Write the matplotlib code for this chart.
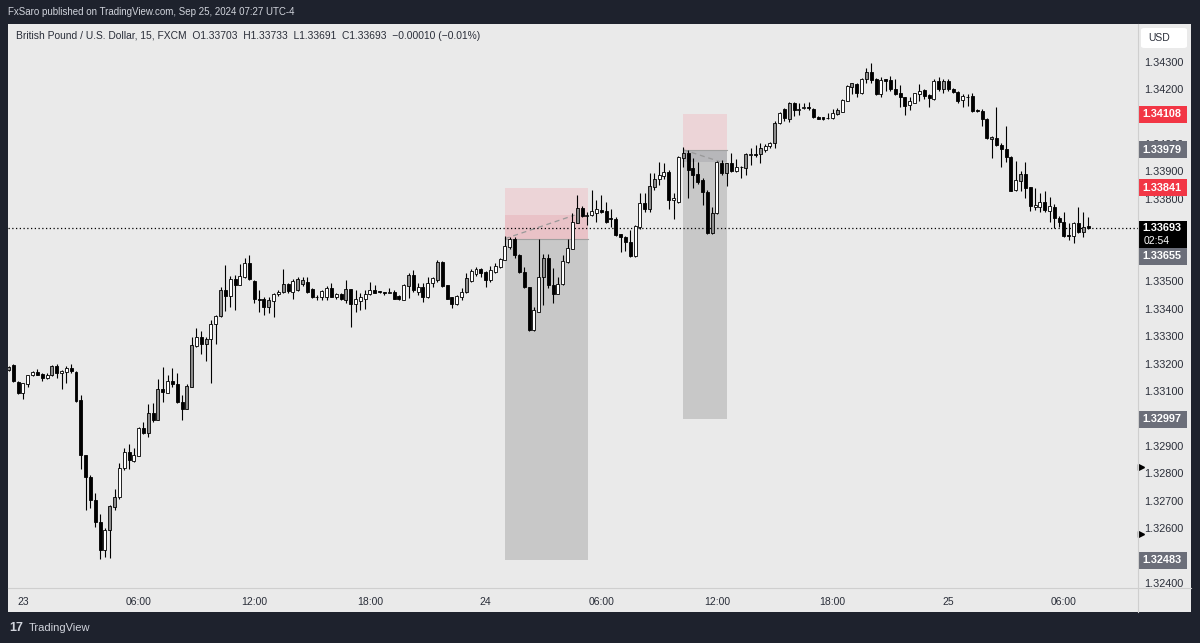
import numpy as np
import pandas as pd
import matplotlib
matplotlib.use("Agg")
import matplotlib.pyplot as plt
import matplotlib.transforms as mtransforms
from matplotlib.patches import Rectangle, FancyBboxPatch
from matplotlib.lines import Line2D

plt.rcParams["font.family"] = ["Liberation Sans", "DejaVu Sans"]

# GBPUSD 15m, FXCM
times = pd.date_range("2024-09-22 23:15", periods=225, freq="15min")
opens = [
    1.33176, 1.33194, 1.33134, 1.33091, 1.33125, 1.33158, 1.33168, 1.33162, 1.33146, 1.33157,
    1.33192, 1.33164, 1.33170, 1.33185, 1.33170, 1.33067, 1.32866, 1.32787, 1.32703, 1.32623,
    1.32522, 1.32595, 1.32678, 1.32712, 1.32818, 1.32876, 1.32846, 1.32863, 1.32966, 1.32948,
    1.33018, 1.32996, 1.33109, 1.33094, 1.33137, 1.33125, 1.33061, 1.33036, 1.33115, 1.33264,
    1.33295, 1.33273, 1.33288, 1.33344, 1.33373, 1.33468, 1.33446, 1.33507, 1.33488, 1.33516,
    1.33565, 1.33502, 1.33437, 1.33434, 1.33407, 1.33429, 1.33452, 1.33462, 1.33490, 1.33462,
    1.33468, 1.33490, 1.33498, 1.33470, 1.33444, 1.33441, 1.33444, 1.33474, 1.33441, 1.33453,
    1.33432, 1.33470, 1.33417, 1.33429, 1.33436, 1.33452, 1.33468, 1.33462, 1.33461, 1.33458,
    1.33462, 1.33446, 1.33432, 1.33483, 1.33523, 1.33462, 1.33480, 1.33441, 1.33492, 1.33504,
    1.33571, 1.33486, 1.33441, 1.33417, 1.33444, 1.33461, 1.33502, 1.33526, 1.33543, 1.33535,
    1.33504, 1.33534, 1.33551, 1.33577, 1.33626, 1.33655, 1.33596, 1.33535, 1.33478, 1.33322,
    1.33389, 1.33517, 1.33583, 1.33486, 1.33453, 1.33490, 1.33571, 1.33619, 1.33713, 1.33766,
    1.33738, 1.33741, 1.33750, 1.33759, 1.33757, 1.33729, 1.33725, 1.33672, 1.33662, 1.33644,
    1.33592, 1.33698, 1.33784, 1.33765, 1.33844, 1.33871, 1.33883, 1.33899, 1.33796, 1.33790,
    1.33948, 1.33968, 1.33911, 1.33890, 1.33869, 1.33826, 1.33677, 1.33747, 1.33932, 1.33895,
    1.33929, 1.33903, 1.33915, 1.33911, 1.33960, 1.33962, 1.33963, 1.33978, 1.33993, 1.34002,
    1.34075, 1.34126, 1.34090, 1.34148, 1.34124, 1.34133, 1.34136, 1.34126, 1.34099, 1.34098,
    1.34094, 1.34094, 1.34110, 1.34118, 1.34158, 1.34209, 1.34219, 1.34185, 1.34236, 1.34264,
    1.34236, 1.34183, 1.34236, 1.34234, 1.34200, 1.34187, 1.34170, 1.34143, 1.34151, 1.34183,
    1.34197, 1.34179, 1.34163, 1.34231, 1.34200, 1.34228, 1.34200, 1.34191, 1.34161, 1.34173,
    1.34175, 1.34122, 1.34122, 1.34090, 1.34017, 1.34021, 1.33997, 1.33982, 1.33952, 1.33833,
    1.33867, 1.33891, 1.33842, 1.33770, 1.33770, 1.33790, 1.33757, 1.33772, 1.33729, 1.33714,
    1.33669, 1.33663, 1.33711, 1.33681, 1.33703,
]
highs = [
    1.33191, 1.33198, 1.33137, 1.33130, 1.33160, 1.33174, 1.33179, 1.33164, 1.33164, 1.33194,
    1.33198, 1.33176, 1.33191, 1.33200, 1.33172, 1.33085, 1.32866, 1.32793, 1.32727, 1.32651,
    1.32599, 1.32684, 1.32741, 1.32836, 1.32893, 1.32906, 1.32891, 1.32970, 1.32988, 1.33051,
    1.33058, 1.33142, 1.33188, 1.33158, 1.33182, 1.33164, 1.33085, 1.33125, 1.33295, 1.33328,
    1.33320, 1.33295, 1.33358, 1.33377, 1.33480, 1.33559, 1.33519, 1.33522, 1.33563, 1.33583,
    1.33595, 1.33504, 1.33468, 1.33441, 1.33441, 1.33456, 1.33468, 1.33543, 1.33494, 1.33507,
    1.33514, 1.33514, 1.33517, 1.33474, 1.33450, 1.33468, 1.33483, 1.33492, 1.33456, 1.33456,
    1.33504, 1.33470, 1.33468, 1.33456, 1.33468, 1.33498, 1.33486, 1.33466, 1.33462, 1.33474,
    1.33468, 1.33450, 1.33490, 1.33529, 1.33541, 1.33492, 1.33495, 1.33514, 1.33514, 1.33577,
    1.33575, 1.33486, 1.33444, 1.33450, 1.33474, 1.33529, 1.33543, 1.33551, 1.33547, 1.33539,
    1.33556, 1.33568, 1.33583, 1.33665, 1.33660, 1.33660, 1.33599, 1.33551, 1.33480, 1.33407,
    1.33653, 1.33599, 1.33599, 1.33547, 1.33514, 1.33596, 1.33653, 1.33747, 1.33814, 1.33774,
    1.33754, 1.33833, 1.33796, 1.33814, 1.33790, 1.33765, 1.33735, 1.33672, 1.33664, 1.33686,
    1.33705, 1.33820, 1.33820, 1.33893, 1.33893, 1.33935, 1.33932, 1.33905, 1.33820, 1.33956,
    1.33988, 1.33978, 1.33948, 1.33935, 1.33875, 1.33832, 1.33769, 1.33939, 1.33941, 1.33932,
    1.33966, 1.33944, 1.33920, 1.33966, 1.33984, 1.33996, 1.34002, 1.34000, 1.34008, 1.34085,
    1.34118, 1.34130, 1.34154, 1.34154, 1.34148, 1.34150, 1.34154, 1.34130, 1.34102, 1.34100,
    1.34112, 1.34127, 1.34130, 1.34163, 1.34215, 1.34224, 1.34224, 1.34240, 1.34276, 1.34297,
    1.34240, 1.34246, 1.34236, 1.34248, 1.34236, 1.34215, 1.34173, 1.34173, 1.34187, 1.34219,
    1.34200, 1.34183, 1.34236, 1.34243, 1.34236, 1.34236, 1.34203, 1.34195, 1.34183, 1.34183,
    1.34185, 1.34127, 1.34127, 1.34094, 1.34030, 1.34136, 1.34005, 1.34066, 1.33957, 1.33937,
    1.33900, 1.33936, 1.33845, 1.33839, 1.33823, 1.33827, 1.33808, 1.33782, 1.33736, 1.33754,
    1.33711, 1.33714, 1.33772, 1.33754, 1.33733,
]
lows = [
    1.33174, 1.33134, 1.33089, 1.33069, 1.33115, 1.33155, 1.33157, 1.33137, 1.33142, 1.33154,
    1.33149, 1.33109, 1.33130, 1.33166, 1.33061, 1.32814, 1.32666, 1.32672, 1.32605, 1.32486,
    1.32496, 1.32490, 1.32666, 1.32708, 1.32812, 1.32814, 1.32842, 1.32863, 1.32942, 1.32933,
    1.32988, 1.32994, 1.33061, 1.33091, 1.33115, 1.33057, 1.32996, 1.33036, 1.33115, 1.33261,
    1.33234, 1.33210, 1.33128, 1.33271, 1.33371, 1.33392, 1.33407, 1.33395, 1.33486, 1.33510,
    1.33504, 1.33419, 1.33389, 1.33377, 1.33383, 1.33368, 1.33446, 1.33458, 1.33456, 1.33434,
    1.33465, 1.33483, 1.33458, 1.33438, 1.33432, 1.33432, 1.33432, 1.33441, 1.33436, 1.33432,
    1.33422, 1.33334, 1.33389, 1.33395, 1.33398, 1.33450, 1.33456, 1.33456, 1.33450, 1.33456,
    1.33434, 1.33432, 1.33432, 1.33438, 1.33462, 1.33450, 1.33426, 1.33438, 1.33480, 1.33498,
    1.33478, 1.33434, 1.33401, 1.33413, 1.33432, 1.33458, 1.33498, 1.33519, 1.33517, 1.33480,
    1.33498, 1.33531, 1.33547, 1.33577, 1.33616, 1.33583, 1.33531, 1.33474, 1.33320, 1.33320,
    1.33389, 1.33413, 1.33474, 1.33419, 1.33453, 1.33486, 1.33565, 1.33616, 1.33713, 1.33735,
    1.33705, 1.33738, 1.33717, 1.33747, 1.33711, 1.33698, 1.33664, 1.33607, 1.33611, 1.33589,
    1.33589, 1.33692, 1.33753, 1.33753, 1.33832, 1.33850, 1.33871, 1.33765, 1.33725, 1.33784,
    1.33917, 1.33802, 1.33838, 1.33856, 1.33777, 1.33672, 1.33672, 1.33745, 1.33887, 1.33847,
    1.33899, 1.33899, 1.33875, 1.33887, 1.33923, 1.33954, 1.33929, 1.33972, 1.33984, 1.33984,
    1.34073, 1.34085, 1.34081, 1.34102, 1.34106, 1.34126, 1.34124, 1.34093, 1.34090, 1.34088,
    1.34090, 1.34090, 1.34106, 1.34115, 1.34155, 1.34183, 1.34173, 1.34183, 1.34224, 1.34224,
    1.34179, 1.34173, 1.34195, 1.34195, 1.34179, 1.34134, 1.34106, 1.34124, 1.34149, 1.34155,
    1.34163, 1.34136, 1.34161, 1.34195, 1.34185, 1.34195, 1.34187, 1.34151, 1.34134, 1.34139,
    1.34118, 1.34117, 1.34064, 1.34017, 1.33948, 1.33991, 1.33918, 1.33936, 1.33827, 1.33830,
    1.33830, 1.33802, 1.33757, 1.33760, 1.33754, 1.33754, 1.33714, 1.33693, 1.33699, 1.33660,
    1.33650, 1.33638, 1.33677, 1.33660, 1.33691,
]
closes = [
    1.33188, 1.33136, 1.33091, 1.33128, 1.33158, 1.33169, 1.33160, 1.33146, 1.33160, 1.33192,
    1.33164, 1.33172, 1.33185, 1.33172, 1.33064, 1.32866, 1.32787, 1.32703, 1.32623, 1.32520,
    1.32595, 1.32682, 1.32712, 1.32818, 1.32876, 1.32848, 1.32866, 1.32966, 1.32948, 1.33018,
    1.32994, 1.33109, 1.33096, 1.33137, 1.33124, 1.33061, 1.33036, 1.33119, 1.33267, 1.33295,
    1.33273, 1.33288, 1.33344, 1.33373, 1.33468, 1.33446, 1.33507, 1.33486, 1.33519, 1.33565,
    1.33507, 1.33435, 1.33431, 1.33407, 1.33431, 1.33452, 1.33460, 1.33490, 1.33465, 1.33502,
    1.33507, 1.33504, 1.33462, 1.33441, 1.33441, 1.33466, 1.33474, 1.33444, 1.33452, 1.33434,
    1.33470, 1.33417, 1.33434, 1.33441, 1.33453, 1.33468, 1.33458, 1.33461, 1.33458, 1.33462,
    1.33436, 1.33434, 1.33486, 1.33523, 1.33468, 1.33480, 1.33441, 1.33492, 1.33511, 1.33571,
    1.33483, 1.33436, 1.33417, 1.33446, 1.33462, 1.33511, 1.33539, 1.33543, 1.33529, 1.33504,
    1.33541, 1.33556, 1.33580, 1.33628, 1.33655, 1.33596, 1.33535, 1.33478, 1.33322, 1.33395,
    1.33514, 1.33583, 1.33486, 1.33453, 1.33490, 1.33575, 1.33620, 1.33717, 1.33766, 1.33738,
    1.33741, 1.33757, 1.33762, 1.33753, 1.33717, 1.33725, 1.33668, 1.33662, 1.33644, 1.33592,
    1.33701, 1.33784, 1.33765, 1.33847, 1.33871, 1.33887, 1.33899, 1.33796, 1.33802, 1.33951,
    1.33968, 1.33905, 1.33887, 1.33863, 1.33826, 1.33677, 1.33750, 1.33935, 1.33895, 1.33929,
    1.33903, 1.33915, 1.33917, 1.33963, 1.33962, 1.33960, 1.33984, 1.33993, 1.34002, 1.34078,
    1.34112, 1.34093, 1.34148, 1.34124, 1.34126, 1.34136, 1.34130, 1.34097, 1.34092, 1.34090,
    1.34096, 1.34112, 1.34124, 1.34161, 1.34212, 1.34222, 1.34185, 1.34236, 1.34264, 1.34234,
    1.34183, 1.34234, 1.34231, 1.34200, 1.34183, 1.34170, 1.34139, 1.34155, 1.34185, 1.34195,
    1.34175, 1.34167, 1.34231, 1.34200, 1.34228, 1.34200, 1.34191, 1.34158, 1.34175, 1.34170,
    1.34122, 1.34121, 1.34090, 1.34021, 1.34027, 1.33997, 1.33982, 1.33952, 1.33830, 1.33869,
    1.33891, 1.33839, 1.33774, 1.33778, 1.33790, 1.33760, 1.33774, 1.33729, 1.33714, 1.33663,
    1.33663, 1.33711, 1.33681, 1.33699, 1.33693,
]
# bars (counted from 23 Sep 00:00) drawn with the grey fill
gray_bars = [-3, 6, 18, 19, 26, 28, 34, 35, 38, 41, 51, 54, 57, 58, 67, 80, 86, 92, 108, 115,
             130, 131, 137, 143, 146, 150, 153, 156, 159, 169, 172, 175, 191, 201, 207, 220]

# short position tools: (start, end, stop, entry, target, exit time, exit price)
pos1 = ("2024-09-24 01:00", "2024-09-24 05:18", 1.33841, 1.33655, 1.32483, "2024-09-24 04:37", 1.33741)
pos2 = ("2024-09-24 10:15", "2024-09-24 12:30", 1.34108, 1.33979, 1.32997, "2024-09-24 12:09", 1.33936)
marker_prices = [1.32823, 1.32579]
last_price, countdown = 1.33693, "02:54"

W, H = 1200, 643
fig = plt.figure(figsize=(W / 100, H / 100), dpi=100, facecolor="#1e222d")

def fx(px):
    return px / W

def fy(py):
    return 1 - py / H

# chart panel
fig.add_artist(Rectangle((fx(8), fy(611.7)), fx(1182.7), 588.2 / H, transform=fig.transFigure,
                         fc="#eaeaea", ec="none", zorder=-5))
ax = fig.add_axes([fx(8), fy(588.3), fx(1129.7), (588.3 - 23.5) / H])
ax.set_facecolor("none")
fig.add_artist(Line2D([fx(1137.7)] * 2, [fy(23.5), fy(611.7)], transform=fig.transFigure, color="#cfcfcf", lw=0.8))
fig.add_artist(Line2D([fx(8), fx(1190.7)], [fy(588.3)] * 2, transform=fig.transFigure, color="#cfcfcf", lw=0.8))

t0 = pd.Timestamp("2024-09-23 00:00")

def bar_x(t):
    return np.asarray((pd.to_datetime(t) - t0) / pd.Timedelta("15min"), dtype=float)

x = bar_x(times)
o, h, l, c = map(np.array, (opens, highs, lows, closes))

ax.set_xlim(-3.11, 231.3)
ax.set_ylim(1.323809, 1.344392)

# position boxes
for start, end, stop, entry, target, ex_t, ex_p in (pos1, pos2):
    x0, x1 = bar_x(start), bar_x(end)
    ax.add_patch(Rectangle((x0, entry), x1 - x0, stop - entry, fc="#ecd4d7", ec="none", zorder=1))
    ax.add_patch(Rectangle((x0, target), x1 - x0, entry - target, fc="#c8c8c8", ec="none", zorder=1))
    if ex_p > entry:
        ax.add_patch(Rectangle((x0, entry), x1 - x0, ex_p - entry, fc="#e9c2c7", ec="none", zorder=1.1))
    else:
        ax.add_patch(Rectangle((x0, ex_p), x1 - x0, entry - ex_p, fc="#b7b7ba", ec="none", zorder=1.1))
    ax.plot([x0, x1], [entry, entry], color="#a0a0a0", lw=0.8, zorder=1.2)
    ax.plot([x0, bar_x(ex_t)], [entry, ex_p], color="#999999", lw=0.9, ls=(0, (4, 3)), zorder=1.3)

ax.axhline(last_price, color="black", lw=0.9, ls=(0, (1, 2)), zorder=2)

# candles
up = c >= o
fc = np.where(up, "white", "black").astype(object)
fc[np.isin(np.rint(x).astype(int), gray_bars)] = "#8c8c8c"
ax.vlines(x, l, h, color="black", lw=0.8, zorder=3)
ax.bar(x, np.maximum(np.abs(c - o), 0.00002), bottom=np.minimum(o, c), width=0.62,
       color=fc, edgecolor="black", linewidth=0.6, zorder=4)

for s in ax.spines.values():
    s.set_visible(False)

pxx = 1 / 1129.7
pxy = 0.001 / 27.44
red, grey = "#f23645", "#6b6e79"
entry1_shown = last_price - 28.2 * pxy
tags = [(pos1[2], red), (pos1[4], grey), (pos2[2], red), (pos2[4], grey), (pos2[3], grey)]

# price scale, labels that the tags cover are not drawn
yt = np.arange(1.324, 1.34301, 0.001)
covered = [p for p, _ in tags] + [entry1_shown, last_price]
ax.yaxis.tick_right()
ax.set_yticks(yt)
ax.set_yticklabels(["" if min(abs(v - p) for p in covered) < 4 * pxy else f"{v:.5f}" for v in yt])
ax.tick_params(axis="y", length=0, pad=5, labelsize=7.8, labelcolor="#2a2e39")

# time scale
mask = (times.minute == 0) & (times.hour % 6 == 0)
ax.set_xticks(x[mask])
ax.set_xticklabels([t.strftime("%d").lstrip("0") if t.hour == 0 else t.strftime("%H:%M") for t in times[mask]])
ax.tick_params(axis="x", length=0, pad=6, labelsize=7.5, labelcolor="#2a2e39")

trans = mtransforms.blended_transform_factory(ax.transAxes, ax.transData)

def price_tag(y, txt, color, h=17):
    ax.add_patch(Rectangle((1.0, y - h / 2 * pxy), 49 * pxx, h * pxy, transform=trans,
                           fc=color, ec="none", clip_on=False, zorder=6))
    ax.text(1.0 + 24.5 * pxx, y, txt, transform=trans, ha="center", va="center", color="white",
            fontsize=7.8, fontweight="bold", clip_on=False, zorder=7)

for p, col in tags:
    price_tag(p, f"{p:.5f}", col)

# last price with countdown, entry of first tool pushed below it
ax.add_patch(Rectangle((1.0, last_price - 19.7 * pxy), 49 * pxx, 27 * pxy, transform=trans,
                       fc="black", ec="none", clip_on=False, zorder=6))
ax.text(1.0 + 24.5 * pxx, last_price + 0.5 * pxy, f"{last_price:.5f}", transform=trans, ha="center",
        va="center", color="white", fontsize=7.8, fontweight="bold", clip_on=False, zorder=7)
ax.text(1.0 + 6 * pxx, last_price - 12.5 * pxy, countdown, transform=trans, ha="left",
        va="center", color="white", fontsize=7.5, clip_on=False, zorder=7)
price_tag(entry1_shown, f"{pos1[3]:.5f}", grey)

for mp in marker_prices:
    ax.plot([1.0 + 3 * pxx], [mp], marker=">", ms=5, color="black", transform=trans, clip_on=False, zorder=6)

# USD box
fig.add_artist(FancyBboxPatch((fx(1141), fy(48)), fx(46), 20 / H, boxstyle="round,pad=0,rounding_size=0.003",
                              transform=fig.transFigure, fc="white", ec="none", zorder=5))
fig.text(fx(1148), fy(38), "USD", fontsize=7.5, color="#2a2e39", va="center", ha="left", zorder=6)

# header texts
fig.text(fx(8), fy(12), "FxSaro published on TradingView.com, Sep 25, 2024 07:27 UTC-4",
         color="#d1d4dc", fontsize=7, va="center", ha="left")
fig.text(fx(16), fy(36), "British Pound / U.S. Dollar, 15, FXCM  O1.33703  H1.33733  L1.33691  C1.33693  \u22120.00010 (\u22120.01%)",
         color="#2a2e39", fontsize=7.4, va="center", ha="left")
fig.text(fx(9), fy(628), "17", color="#d1d4dc", fontsize=9, fontweight="bold", va="center", ha="left")
fig.text(fx(29), fy(628), "TradingView", color="#d1d4dc", fontsize=8, va="center", ha="left")

fig.savefig("out.png", dpi=100, facecolor=fig.get_facecolor())
